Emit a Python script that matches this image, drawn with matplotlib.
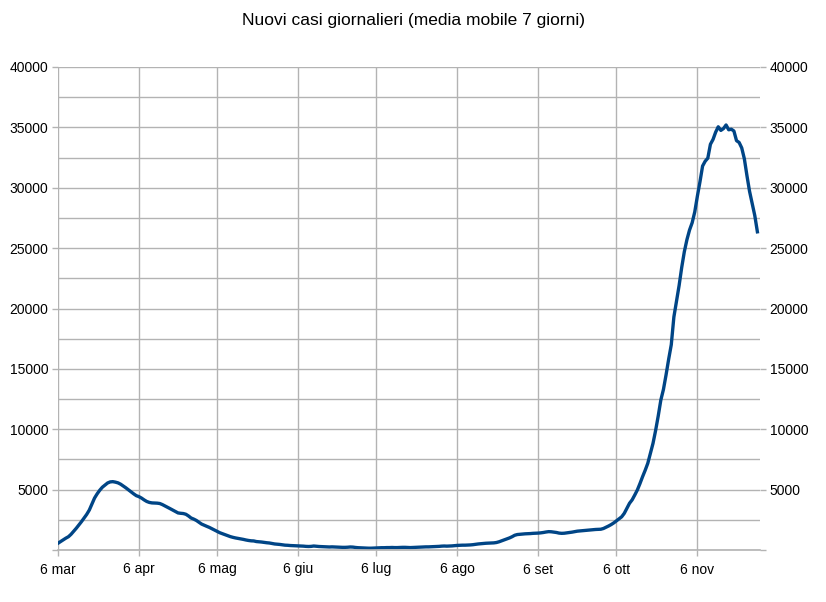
import numpy as np
import pandas as pd
import matplotlib
matplotlib.use("Agg")
import matplotlib.pyplot as plt
from matplotlib.ticker import MultipleLocator, FuncFormatter

plt.rcParams['font.family'] = ['Liberation Sans', 'DejaVu Sans']

# 7-day moving average of new daily cases, 6 Mar -> 29 Nov (one value per day)
start_date = "2020-03-06"
cases = [
    # mar 6-31
    560, 700, 850, 980, 1100, 1300, 1550, 1800, 2070, 2350, 2650, 2950, 3310,
    3800, 4300, 4650, 4950, 5200, 5380, 5550, 5640, 5660, 5620, 5560, 5450, 5300,
    # apr
    5150, 4980, 4800, 4650, 4500, 4420, 4300, 4150, 4020, 3940, 3900, 3890, 3880,
    3850, 3760, 3650, 3540, 3420, 3300, 3180, 3070, 3040, 3020, 2960, 2820, 2650,
    2560, 2450, 2300, 2150,
    # may
    2050, 1960, 1870, 1760, 1640, 1530, 1430, 1350, 1270, 1190, 1110, 1050, 1000,
    960, 920, 880, 830, 790, 760, 750, 700, 680, 660, 630, 600, 580, 540, 500, 480,
    460, 430,
    # jun
    400, 390, 370, 360, 350, 340, 330, 320, 300, 290, 300, 330, 310, 290, 280, 270,
    260, 250, 260, 250, 240, 230, 220, 220, 230, 250, 240, 210, 190, 180,
    # jul
    170, 160, 150, 150, 160, 170, 180, 190, 190, 200, 200, 210, 200, 200, 210, 220,
    220, 210, 200, 210, 220, 230, 240, 250, 260, 260, 270, 280, 290, 300, 320,
    # aug
    330, 320, 330, 340, 360, 380, 390, 400, 400, 410, 420, 440, 470, 500, 520, 540,
    560, 570, 580, 590, 620, 680, 760, 840, 920, 1000, 1100, 1220, 1280, 1300, 1320,
    # sep
    1340, 1350, 1360, 1380, 1390, 1400, 1420, 1450, 1490, 1520, 1510, 1480, 1450,
    1400, 1380, 1390, 1420, 1450, 1480, 1520, 1560, 1580, 1600, 1620, 1640, 1660,
    1680, 1700, 1710, 1720,
    # oct
    1780, 1880, 1990, 2110, 2250, 2420, 2580, 2750, 3040, 3450, 3870, 4150, 4550,
    4970, 5500, 6070, 6600, 7180, 8000, 8830, 9900, 11100, 12420, 13300, 14500,
    15800, 17000, 19300, 20600, 21900, 23400,
    # nov 1-29
    24700, 25700, 26500, 27100, 28000, 29300, 30500, 31800, 32200, 32450, 33600,
    34000, 34600, 35050, 34750, 34900, 35200, 34800, 34850, 34700, 33900, 33750,
    33300, 32400, 31000, 29700, 28700, 27700, 26350,
]
month_ticks = ["2020-03-06", "2020-04-06", "2020-05-06", "2020-06-06", "2020-07-06",
               "2020-08-06", "2020-09-06", "2020-10-06", "2020-11-06"]
month_labels = ["6 mar", "6 apr", "6 mag", "6 giu", "6 lug", "6 ago", "6 set", "6 ott", "6 nov"]
title = "Nuovi casi giornalieri (media mobile 7 giorni)"

dates = pd.date_range(start_date, periods=len(cases), freq="D")

fig = plt.figure(figsize=(8.26, 6.02), dpi=100)
ax = fig.add_axes([58 / 826, 1 - 550 / 602, (760 - 58) / 826, (550 - 67) / 602])

ax.plot(dates, cases, color="#004586", linewidth=2.4, solid_joinstyle="round")

ax.set_xlim(pd.Timestamp(start_date), pd.Timestamp("2020-11-30"))
ax.set_ylim(0, 40000)

ax.set_xticks(pd.to_datetime(month_ticks))
ax.set_xticklabels(month_labels)
ax.yaxis.set_major_locator(MultipleLocator(5000))
ax.yaxis.set_minor_locator(MultipleLocator(2500))
ax.yaxis.set_major_formatter(FuncFormatter(lambda v, p: "" if v == 0 else f"{int(v)}"))

grid_c = "#b3b3b3"
ax.grid(True, which="both", axis="y", color=grid_c, linewidth=1)
ax.grid(True, which="major", axis="x", color=grid_c, linewidth=1)
ax.set_axisbelow(True)

for s in ["top", "left", "right"]:
    ax.spines[s].set_visible(False)
ax.spines["bottom"].set_color(grid_c)
ax.spines["bottom"].set_linewidth(1.2)

ax.tick_params(axis="both", which="both", colors=grid_c, labelcolor="black",
               labelsize=10, length=4, width=1)
ax.tick_params(axis="y", which="both", left=True, right=True, labelleft=True,
               labelright=True, pad=3)
ax.tick_params(axis="y", which="minor", length=0)
ax.tick_params(axis="x", pad=5)

fig.text(0.5, 1 - 20 / 602, title, ha="center", va="center", fontsize=12.5)

fig.savefig("out.png", dpi=100)
